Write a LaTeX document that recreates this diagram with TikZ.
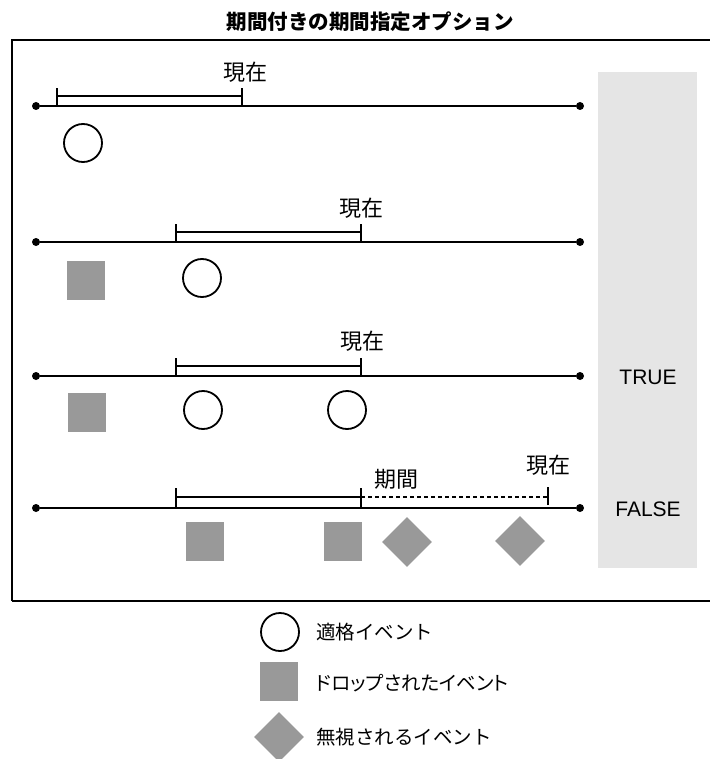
\documentclass[tikz,border=0pt]{standalone}
\usepackage{fontspec}
\setmainfont{Noto Sans CJK JP}
\newfontfamily\latinsans{Liberation Sans}
\usetikzlibrary{shapes.geometric}
\definecolor{dropgray}{HTML}{999999}
\definecolor{panelgray}{HTML}{E5E5E5}
\tikzset{
  tl/.style={line width=2.2pt},
  tdot/.style={circle,fill=black,inner sep=0pt,minimum size=8pt},
  brk/.style={line width=1.6pt},
  dsh/.style={line width=1.6pt,dash pattern=on 4pt off 3pt},
  okev/.style={circle,draw=black,line width=1.8pt,minimum size=38pt,inner sep=0pt},
  dropev/.style={rectangle,fill=dropgray,minimum width=38pt,minimum height=39pt,inner sep=0pt},
  ignev/.style={diamond,fill=dropgray,minimum width=50pt,minimum height=50pt,inner sep=0pt,aspect=1},
  lbl/.style={font=\fontsize{22}{22}\selectfont,inner sep=0pt},
  tf/.style={font=\latinsans\fontsize{21}{21}\selectfont,inner sep=0pt},
  leg/.style={font=\fontsize{19.5}{20}\selectfont,inner sep=0pt,anchor=west},
  ttl/.style={font=\bfseries\fontsize{20.5}{21}\selectfont,inner sep=0pt}
}
\begin{document}
\begin{tikzpicture}[x=1pt,y=-1pt]
\useasboundingbox (0,0) rectangle (709,759);
% title
\node[ttl] (title) at (370,22) {期間付きの期間指定オプション};
% frame and panel
\draw[line width=1.6pt] (12,601) -- (12,40) -- (712,40);
\draw[line width=1.6pt] (12,601) -- (712,601);
\fill[panelgray] (598,72) rectangle (697,568);
\node[tf] (true) at (648,377) {TRUE};
\node[tf] (false) at (648,509) {FALSE};
% row 1
\node[tdot] (a1) at (36,106) {};
\node[tdot] (b1) at (580,106) {};
\draw[tl] (a1) -- (b1);
\coordinate (p1) at (57,106); \coordinate (q1) at (242,106);
\draw[brk] (p1) -- ++(0,-18);
\draw[brk] (q1) -- ++(0,-18);
\draw[brk] ([yshift=10pt]p1) -- ([yshift=10pt]q1);
\node[lbl] (now1) at (245,72) {現在};
\node[okev] (c11) at (83,143) {};
% row 2
\node[tdot] (a2) at (36,242) {};
\node[tdot] (b2) at (580,242) {};
\draw[tl] (a2) -- (b2);
\coordinate (p2) at (176,242); \coordinate (q2) at (361,242);
\draw[brk] (p2) -- ++(0,-18);
\draw[brk] (q2) -- ++(0,-18);
\draw[brk] ([yshift=10pt]p2) -- ([yshift=10pt]q2);
\node[lbl] (now2) at (361,208) {現在};
\node[dropev] (d21) at (86,280) {};
\node[okev] (c21) at (202,278) {};
% row 3
\node[tdot] (a3) at (36,376) {};
\node[tdot] (b3) at (580,376) {};
\draw[tl] (a3) -- (b3);
\coordinate (p3) at (176,376); \coordinate (q3) at (361,376);
\draw[brk] (p3) -- ++(0,-18);
\draw[brk] (q3) -- ++(0,-18);
\draw[brk] ([yshift=10pt]p3) -- ([yshift=10pt]q3);
\node[lbl] (now3) at (362,341) {現在};
\node[dropev] (d31) at (87,412) {};
\node[okev] (c31) at (203,410) {};
\node[okev] (c32) at (347,410) {};
% row 4
\node[tdot] (a4) at (36,508) {};
\node[tdot] (b4) at (580,508) {};
\draw[tl] (a4) -- (b4);
\coordinate (p4) at (176,508); \coordinate (q4) at (361,508); \coordinate (r4) at (548,505);
\draw[brk] (p4) -- ++(0,-20);
\draw[brk] (q4) -- ++(0,-20);
\draw[brk] (r4) -- ++(0,-18);
\draw[brk] ([yshift=11pt]p4) -- ([yshift=11pt]q4);
\draw[dsh] ([yshift=11pt]q4) -- ([yshift=8pt]r4);
\node[lbl] (per4) at (396,479) {期間};
\node[lbl] (now4) at (548,465) {現在};
\node[dropev] (d41) at (205,541) {};
\node[dropev] (d42) at (343,541) {};
\node[ignev] (i41) at (407,542) {};
\node[ignev] (i42) at (520,541) {};
% legend
\node[okev] (lc) at (280,632) {};
\node[leg] (lct) at (316,632) {適格イベント};
\node[dropev] (ld) at (279,681) {};
\node[leg] (ldt) at (316,683) {\addfontfeature{RawFeature=+palt}ドロップされたイベント};
\node[ignev] (li) at (279,737) {};
\node[leg] (lit) at (316,737) {無視されるイベント};
\end{tikzpicture}
\end{document}
